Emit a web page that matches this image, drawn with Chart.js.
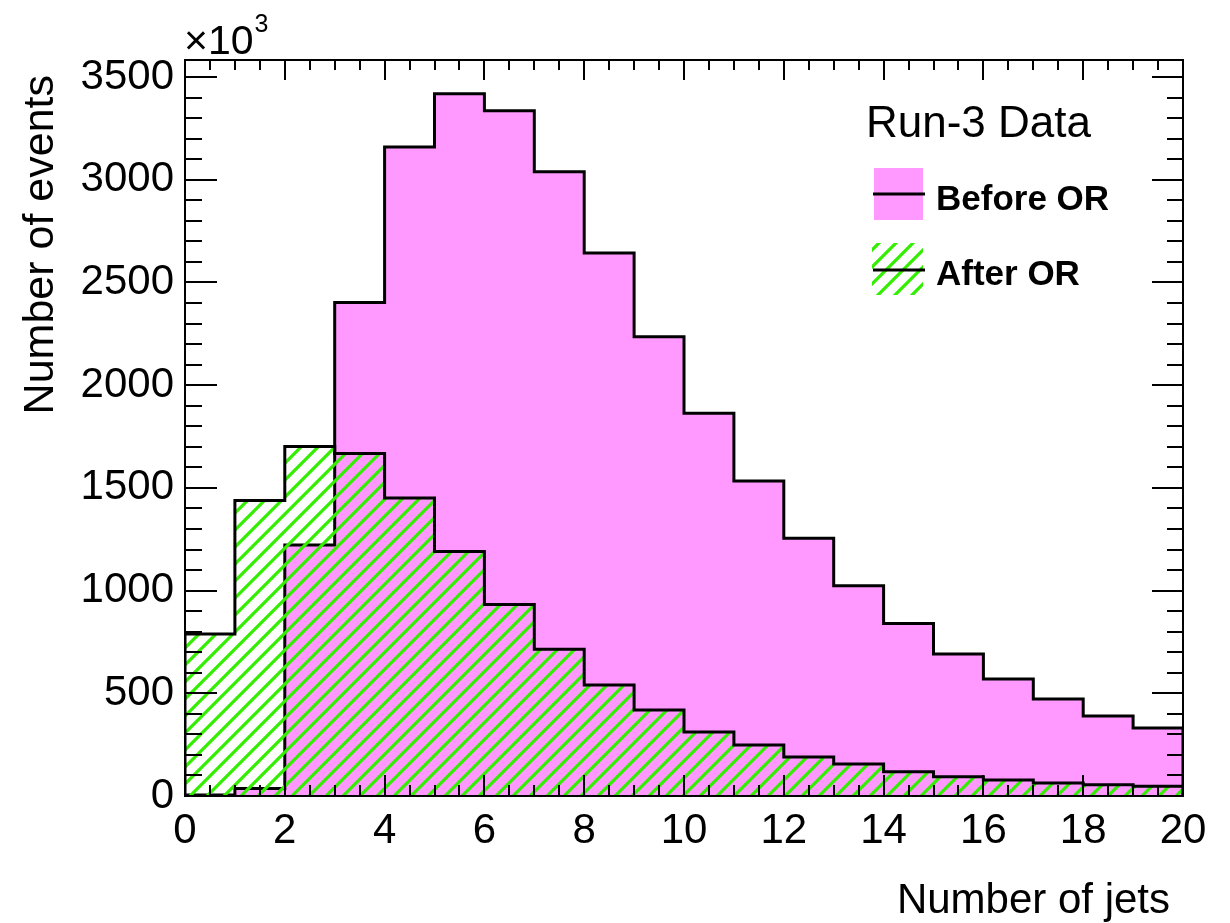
<!DOCTYPE html>
<html>
<head>
<meta charset="utf-8">
<title>Number of jets</title>
<script src="https://cdn.jsdelivr.net/npm/chart.js@4.4.1/dist/chart.umd.min.js"></script>
<style>
    html, body { margin: 0; padding: 0; background: #ffffff; }
    #wrap { width: 1230px; height: 923px; }
</style>
</head>
<body>
<div id="wrap"><canvas id="jetsChart"></canvas></div>
<script>
// ======================================================
// DATA  (events, in units of 10^3, one value per jet-multiplicity bin)
// ======================================================
const binLow   = [0, 1, 2, 3, 4, 5, 6, 7, 8, 9, 10, 11, 12, 13, 14, 15, 16, 17, 18, 19];
const beforeOR = [5, 37, 1222, 2403, 3159, 3419, 3336, 3039, 2643, 2236,
                  1863, 1534, 1255, 1024, 840, 691, 570, 472, 390, 331];
const afterOR  = [789, 1438, 1701, 1667, 1451, 1190, 932, 715, 540, 419,
                  312, 248, 190, 156, 118, 94, 78, 63, 55, 47];

const xTickValues = [0, 2, 4, 6, 8, 10, 12, 14, 16, 18, 20];
const yTickValues = [0, 500, 1000, 1500, 2000, 2500, 3000, 3500];

const X_MIN = 0, X_MAX = 20;
const Y_MIN = 0, Y_MAX = 3583;

// ── Style ─────────────────────────────────────────────
const FONT   = '"Liberation Sans", Arial, Helvetica, sans-serif';
const PINK   = '#ff99ff';
const GREEN  = '#33ee00';

// ======================================================
// HELPERS
// ======================================================
// histogram outline: start at 0, step through every bin, close back to 0
function histPoints(values) {
    const pts = [{ x: binLow[0], y: 0 }];
    values.forEach((v, i) => pts.push({ x: binLow[i], y: v }));
    pts.push({ x: X_MAX, y: values[values.length - 1] });
    pts.push({ x: X_MAX, y: 0 });
    return pts;
}

// ROOT-like "/" hatch
function makeHatch() {
    const s = 17;
    const c = document.createElement('canvas');
    c.width = s; c.height = s;
    const g = c.getContext('2d');
    g.strokeStyle = GREEN;
    g.lineWidth = 3.2;
    g.beginPath();
    g.moveTo(-2, s + 2);     g.lineTo(s + 2, -2);
    g.moveTo(-2, 2);         g.lineTo(2, -2);
    g.moveTo(s - 2, s + 2);  g.lineTo(s + 2, s - 2);
    g.stroke();
    return g.createPattern(c, 'repeat');
}

function seg(ctx, x1, y1, x2, y2) {
    ctx.beginPath();
    ctx.moveTo(x1, y1);
    ctx.lineTo(x2, y2);
    ctx.stroke();
}

const hatch = makeHatch();

// ======================================================
// FRAME, TICKS, TITLES, LEGEND
// ======================================================
const rootFrame = {
    id: 'rootFrame',
    afterDatasetsDraw(chart) {
        const { ctx, chartArea: a, scales: { x, y } } = chart;
        ctx.save();
        ctx.strokeStyle = '#000';

        // ticks (pointing inwards, on all four sides)
        ctx.lineWidth = 2;
        for (let v = X_MIN; v <= X_MAX + 1e-9; v += 0.5) {
            const px = Math.round(x.getPixelForValue(v));
            const major = Math.abs(v / 2 - Math.round(v / 2)) < 1e-9;
            seg(ctx, px, a.bottom, px, a.bottom - (major ? 21 : 11));
            seg(ctx, px, a.top, px, a.top + (major ? 20 : 10));
        }
        for (let v = Y_MIN; v <= Y_MAX; v += 100) {
            const py = Math.round(y.getPixelForValue(v));
            const major = v % 500 === 0;
            seg(ctx, a.left, py, a.left + (major ? 32 : 17), py);
            seg(ctx, a.right, py, a.right - (major ? 31 : 16), py);
        }

        // frame
        ctx.lineWidth = 2;
        ctx.strokeRect(a.left, a.top, a.right - a.left, a.bottom - a.top);
        ctx.restore();
    },
    afterDraw(chart) {
        const { ctx } = chart;
        ctx.save();
        ctx.fillStyle = '#000';
        ctx.textBaseline = 'alphabetic';

        // ×10³ exponent
        ctx.font = `41px ${FONT}`;
        ctx.textAlign = 'left';
        ctx.fillText('×10', 184, 54);
        const w = ctx.measureText('×10').width;
        ctx.font = `25px ${FONT}`;
        ctx.fillText('3', 184 + w + 1, 32);

        // axis titles
        ctx.font = `42px ${FONT}`;
        ctx.textAlign = 'right';
        ctx.fillText('Number of jets', 1170, 913);

        ctx.save();
        ctx.translate(53, 75);
        ctx.rotate(-Math.PI / 2);
        ctx.font = `43px ${FONT}`;
        ctx.fillText('Number of events', 0, 0);
        ctx.restore();

        // legend
        ctx.textAlign = 'left';
        ctx.font = `44px ${FONT}`;
        ctx.fillText('Run-3 Data', 866, 137);

        ctx.fillStyle = PINK;
        ctx.fillRect(874, 168, 49, 52);
        ctx.fillStyle = hatch;
        ctx.fillRect(872, 243, 51, 52);

        ctx.strokeStyle = '#000';
        ctx.lineWidth = 3;
        seg(ctx, 873, 194, 925, 194);
        seg(ctx, 873, 270, 925, 270);

        ctx.fillStyle = '#000';
        ctx.font = `bold 35px ${FONT}`;
        ctx.fillText('Before OR', 936, 210);
        ctx.fillText('After OR', 936, 285);

        ctx.restore();
    }
};

// ======================================================
// CHART
// ======================================================
const ctx = document.getElementById('jetsChart').getContext('2d');

new Chart(ctx, {
    type: 'line',
    data: {
        datasets: [
            {
                // drawn last (on top)
                label: 'After OR',
                data: histPoints(afterOR),
                stepped: 'before',
                borderColor: '#000',
                borderWidth: 3,
                backgroundColor: hatch,
                fill: 'origin',
                pointRadius: 0,
            },
            {
                label: 'Before OR',
                data: histPoints(beforeOR),
                stepped: 'before',
                borderColor: '#000',
                borderWidth: 3,
                backgroundColor: PINK,
                fill: 'origin',
                pointRadius: 0,
            }
        ]
    },
    options: {
        responsive: true,
        maintainAspectRatio: false,
        animation: false,
        events: [],
        layout: { padding: { top: 60, right: 47, bottom: 0, left: 0 } },
        plugins: {
            legend: { display: false },
            tooltip: { enabled: false }
        },
        scales: {
            x: {
                type: 'linear',
                min: X_MIN,
                max: X_MAX,
                afterBuildTicks: s => { s.ticks = xTickValues.map(v => ({ value: v })); },
                afterFit: s => { s.height = 127; },
                grid: { display: false, drawTicks: false },
                border: { display: false },
                ticks: {
                    color: '#000',
                    padding: 10,
                    maxRotation: 0,
                    autoSkip: false,
                    callback: v => String(v),
                    font: { family: FONT, size: 42 }
                }
            },
            y: {
                type: 'linear',
                min: Y_MIN,
                max: Y_MAX,
                afterBuildTicks: s => { s.ticks = yTickValues.map(v => ({ value: v })); },
                afterFit: s => { s.width = 185; },
                grid: { display: false, drawTicks: false },
                border: { display: false },
                ticks: {
                    color: '#000',
                    padding: 11,
                    autoSkip: false,
                    callback: v => String(v),
                    font: { family: FONT, size: 42 }
                }
            }
        }
    },
    plugins: [rootFrame]
});
</script>
</body>
</html>
